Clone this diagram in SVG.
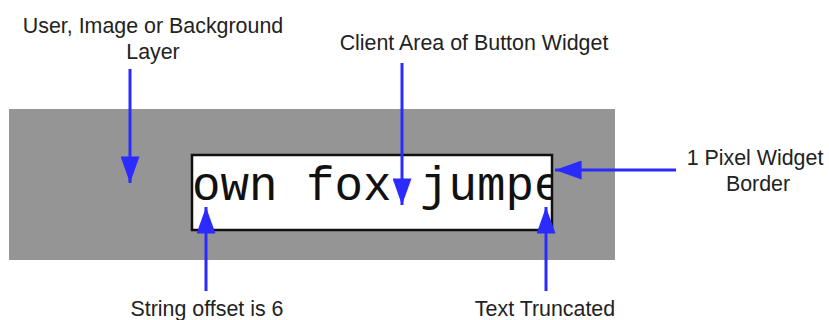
<svg xmlns="http://www.w3.org/2000/svg" width="829" height="320" viewBox="0 0 829 320">
  <style>
    .label { font-family: "Liberation Sans", Arial, sans-serif; font-size: 21.4px; fill: #222; text-anchor: middle; }
    .mono { font-family: "Liberation Mono", "Courier New", monospace; font-size: 47.5px; fill: #111; }
    .arrow { stroke: #2b2bff; stroke-width: 3; fill: none; marker-end: url(#head); }
  </style>
  <defs>
    <marker id="head" viewBox="0 0 28 20" refX="28" refY="10" markerWidth="28" markerHeight="19" markerUnits="userSpaceOnUse" orient="auto">
      <path d="M0,0 L28,10 L0,20 Z" fill="#2b2bff"/>
    </marker>
    <clipPath id="client">
      <rect x="192" y="155" width="360" height="74"/>
    </clipPath>
  </defs>

  <!-- background layer -->
  <g id="background">
    <rect x="9" y="109" width="606" height="151" fill="#959595"/>
  </g>

  <!-- button widget with truncated text -->
  <g id="button">
    <rect x="192" y="155" width="360" height="75" fill="#ffffff" stroke="#111" stroke-width="2.5"/>
    <text class="mono" x="192" y="200" clip-path="url(#client)" xml:space="preserve">own fox jumpe</text>
  </g>

  <!-- labels -->
  <g id="label-layer">
    <text class="label" x="153" y="33">User, Image or Background</text>
    <text class="label" x="153" y="59">Layer</text>
  </g>
  <g id="label-client">
    <text class="label" x="474" y="50">Client Area of Button Widget</text>
  </g>
  <g id="label-border">
    <text class="label" x="755" y="165">1 Pixel Widget</text>
    <text class="label" x="758" y="191">Border</text>
  </g>
  <g id="label-offset">
    <text class="label" x="207" y="316">String offset is 6</text>
  </g>
  <g id="label-truncated">
    <text class="label" x="545" y="316">Text Truncated</text>
  </g>

  <!-- connectors -->
  <g id="connectors">
    <line class="arrow" x1="130" y1="69" x2="130" y2="183"/>
    <line class="arrow" x1="402" y1="63" x2="402" y2="205"/>
    <line class="arrow" x1="676" y1="170" x2="555" y2="170"/>
    <line class="arrow" x1="206" y1="291" x2="206" y2="207"/>
    <line class="arrow" x1="546" y1="291" x2="546" y2="207"/>
  </g>
</svg>
